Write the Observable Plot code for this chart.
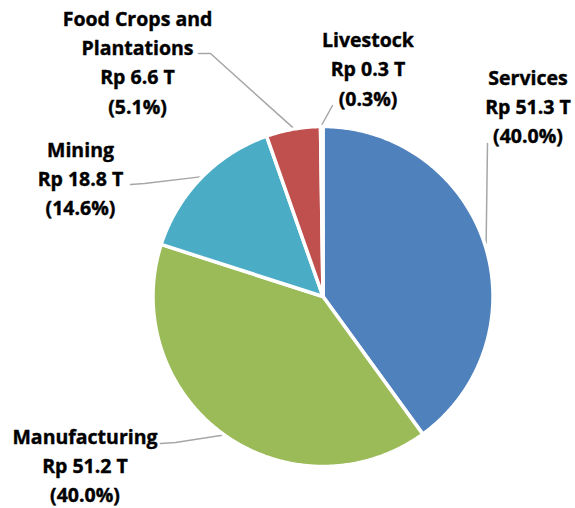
<!DOCTYPE html>
<html>
<head>
<meta charset="utf-8">
<script src="https://cdn.jsdelivr.net/npm/d3@7"></script>
<script src="https://cdn.jsdelivr.net/npm/@observablehq/plot@0.6"></script>
<style>
  html, body { margin: 0; padding: 0; background: #fff; }
  #chart svg { display: block; }
</style>
</head>
<body>
<div id="chart"></div>
<script>
// ---- data ----
const categories = ["Services", "Manufacturing", "Mining", "Food Crops and Plantations", "Livestock"];
const values = [51.3, 51.2, 18.8, 6.6, 0.3];
const nameLabels = ["Services", "Manufacturing", "Mining", "Food Crops and\nPlantations", "Livestock"];
const valueLabels = ["Rp 51.3 T", "Rp 51.2 T", "Rp 18.8 T", "Rp 6.6 T", "Rp 0.3 T"];
const percentLabels = ["(40.0%)", "(40.0%)", "(14.6%)", "(5.1%)", "(0.3%)"];

// ---- styles / layout ----
const colors = ["#4F81BD", "#9BBB59", "#4BACC6", "#C0504D", "#8064A2"];
const W = 575, H = 508;
const cx = 322.5, cy = 296, R = 170;
// label block centres and leader-line start/elbow points (layout)
const labelPos = [[527.5, 104], [84.5, 463], [80, 176], [137, 60], [367.5, 66.5]];
const leaderStart = [[487, 143], [160, 443], [130, 184], [198, 53], [332, 105]];
const leaderElbow = [[487, 143], [175, 442], [144, 183], [210, 53], [332, 105]];

const arcs = d3.pie().sort(null).value(d => d)(values);

const slicePts = arcs.flatMap((a, i) => {
  const pts = [{name: categories[i], x: cx, y: cy}];
  const n = Math.max(2, Math.ceil((a.endAngle - a.startAngle) / (Math.PI / 360)));
  for (let k = 0; k <= n; k++) {
    const t = a.startAngle + (a.endAngle - a.startAngle) * k / n;
    pts.push({name: categories[i], x: cx + R * Math.sin(t), y: cy - R * Math.cos(t)});
  }
  return pts;
});

const leaderPts = arcs.flatMap((a, i) => {
  const m = (a.startAngle + a.endAngle) / 2;
  const r2 = R + 1.5;
  return [
    {name: categories[i], x: leaderStart[i][0], y: leaderStart[i][1]},
    {name: categories[i], x: leaderElbow[i][0], y: leaderElbow[i][1]},
    {name: categories[i], x: cx + r2 * Math.sin(m), y: cy - r2 * Math.cos(m)}
  ];
});

const labels = categories.map((c, i) => ({
  name: c,
  x: labelPos[i][0],
  y: labelPos[i][1],
  text: nameLabels[i] + "\n" + valueLabels[i] + "\n" + percentLabels[i]
}));

const chart = Plot.plot({
  width: W,
  height: H,
  margin: 0,
  x: {domain: [0, W], range: [0, W], axis: null},
  y: {domain: [0, H], range: [0, H], axis: null},
  color: {domain: categories, range: colors},
  marks: [
    Plot.line(leaderPts, {x: "x", y: "y", z: "name", stroke: "#A6A6A6", strokeWidth: 1.5}),
    Plot.line(slicePts, {x: "x", y: "y", z: "name", fill: "name", stroke: "white", strokeWidth: 3.5, strokeLinejoin: "round", curve: "linear-closed"}),
    Plot.text(labels, {
      x: "x", y: "y", text: "text",
      fontFamily: "Open Sans", fontWeight: "bold", fontSize: 19.5,
      lineHeight: 1.5, fill: "black", stroke: "black", strokeWidth: 0.4,
      textAnchor: "middle"
    })
  ]
});
document.getElementById("chart").appendChild(chart);
</script>
</body>
</html>
